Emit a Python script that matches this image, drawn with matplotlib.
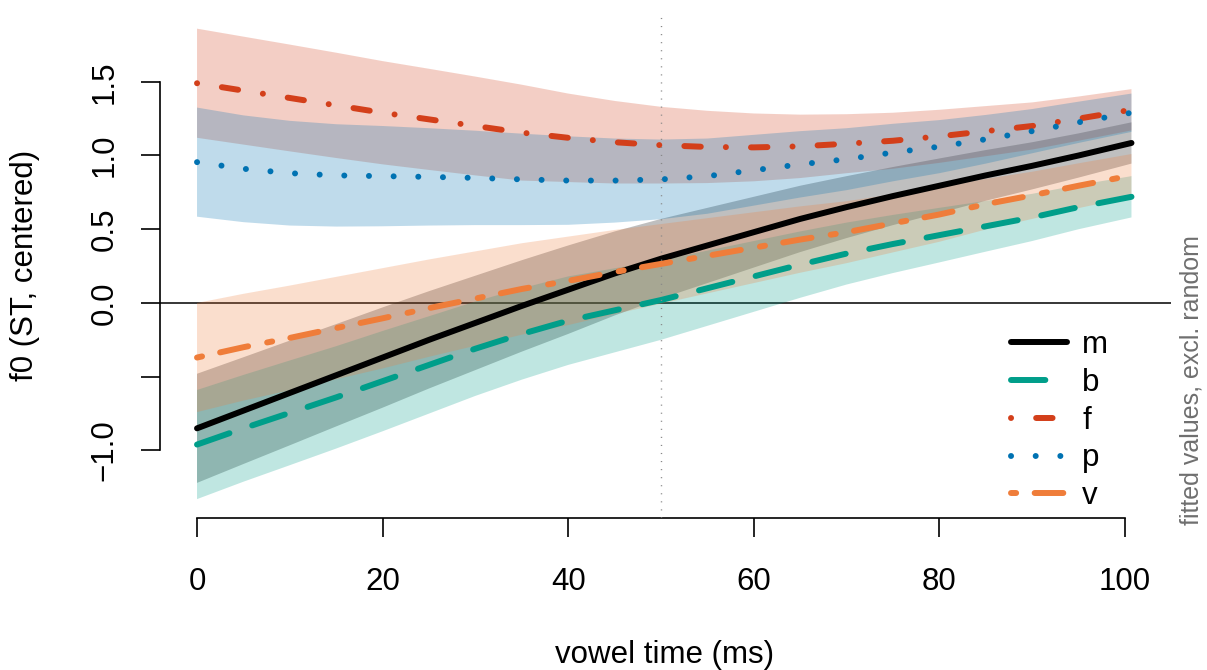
import numpy as np
import matplotlib.pyplot as plt

plt.rcParams['font.family'] = ['Liberation Sans', 'DejaVu Sans']

# vowel time (ms)
time = [0, 5, 10, 15, 20, 25, 30, 35, 40, 45, 50,
        55, 60, 65, 70, 75, 80, 85, 90, 95, 100.7]

# fitted f0 per consonant
fit_m = [-0.85, -0.73, -0.61, -0.49, -0.37, -0.25, -0.135, -0.02, 0.09, 0.20, 0.30,
         0.39, 0.48, 0.57, 0.65, 0.725, 0.795, 0.865, 0.93, 1.00, 1.085]
fit_b = [-0.96, -0.85, -0.745, -0.64, -0.53, -0.42, -0.31, -0.21, -0.12, -0.05, 0.02,
         0.10, 0.18, 0.26, 0.335, 0.40, 0.46, 0.52, 0.58, 0.65, 0.72]
fit_f = [1.49, 1.44, 1.39, 1.34, 1.29, 1.245, 1.20, 1.155, 1.12, 1.09, 1.07,
         1.058, 1.055, 1.062, 1.08, 1.10, 1.13, 1.165, 1.20, 1.25, 1.31]
fit_p = [0.955, 0.91, 0.88, 0.865, 0.86, 0.855, 0.848, 0.838, 0.83, 0.83, 0.838,
         0.86, 0.90, 0.94, 0.975, 1.02, 1.06, 1.11, 1.165, 1.225, 1.29]
fit_v = [-0.37, -0.30, -0.237, -0.17, -0.104, -0.035, 0.03, 0.095, 0.15, 0.21, 0.265,
         0.32, 0.375, 0.43, 0.48, 0.54, 0.60, 0.67, 0.73, 0.795, 0.865]

# half width of the confidence bands
ci_m = [0.37, 0.362, 0.355, 0.347, 0.34, 0.33, 0.32, 0.31, 0.30, 0.285, 0.27,
        0.255, 0.24, 0.225, 0.21, 0.197, 0.185, 0.172, 0.16, 0.15, 0.14]
ci_b = [0.37, 0.362, 0.355, 0.347, 0.34, 0.33, 0.32, 0.31, 0.30, 0.285, 0.27,
        0.255, 0.24, 0.225, 0.21, 0.197, 0.185, 0.172, 0.16, 0.15, 0.14]
ci_f = [0.37, 0.366, 0.362, 0.357, 0.35, 0.343, 0.335, 0.325, 0.30, 0.28, 0.26,
        0.245, 0.23, 0.215, 0.20, 0.19, 0.18, 0.17, 0.16, 0.15, 0.14]
ci_p = [0.37, 0.362, 0.355, 0.347, 0.34, 0.33, 0.32, 0.31, 0.30, 0.285, 0.27,
        0.255, 0.24, 0.225, 0.21, 0.195, 0.18, 0.165, 0.15, 0.14, 0.13]
ci_v = [0.37, 0.362, 0.355, 0.347, 0.34, 0.33, 0.32, 0.31, 0.30, 0.285, 0.27,
        0.255, 0.24, 0.225, 0.21, 0.197, 0.185, 0.172, 0.16, 0.152, 0.145]

labels = ['m', 'b', 'f', 'p', 'v']
colors = ['#000000', '#009E8A', '#D33F1A', '#0072B2', '#EF7D3A']
styles = ['-', (0, (5.75, 4.03)), (0, (0.01, 4.2, 2.75, 4.2)),
          (0, (0.01, 4.12)), (0, (0.86, 3.1, 4.8, 3.25))]
fits = [fit_m, fit_b, fit_f, fit_p, fit_v]
cis = [ci_m, ci_b, ci_f, ci_p, ci_v]

fig = plt.figure(figsize=(12.07, 6.70), dpi=100)
ax = fig.add_axes([160/1207, 152/670, 1011/1207, 506/670])

ax.axhline(0, color='black', lw=1.1, zorder=0.5)

# band first, then line, group by group (later bands cover earlier lines)
for lab, fit, ci, col, ls in zip(labels, fits, cis, colors, styles):
    fit = np.array(fit)
    ci = np.array(ci)
    ax.fill_between(time, fit - ci, fit + ci, color=col, alpha=0.25, edgecolor='none')
    ax.plot(time, fit, color=col, lw=4.3, ls=ls, label=lab,
            dash_capstyle='round', solid_capstyle='round')

ax.axvline(50, color='#888888', lw=1, ls=(0, (0.8, 5)), zorder=3)

ax.set_xlim(-3.99, 104.96)
ax.set_ylim(-1.458, 1.973)

for s in ['top', 'right']:
    ax.spines[s].set_visible(False)
ax.spines['left'].set_bounds(-1, 1.5)
ax.spines['bottom'].set_bounds(0, 100)
ax.spines['left'].set_linewidth(1.2)
ax.spines['bottom'].set_linewidth(1.2)

ax.set_xticks([0, 20, 40, 60, 80, 100])
ax.set_yticks([-1.0, -0.5, 0.0, 0.5, 1.0, 1.5])
ax.set_yticklabels(['\u22121.0', '', '0.0', '0.5', '1.0', '1.5'], rotation=90, va='center')
ax.tick_params(axis='both', direction='out', length=14, width=1.2, labelsize=22.5)
ax.tick_params(axis='x', pad=21)
ax.tick_params(axis='y', pad=15)

leg = ax.legend(loc='upper left', bbox_to_anchor=(1011/1207, 1 - 330/670),
                bbox_transform=fig.transFigure, frameon=False, fontsize=22.5,
                handlelength=1.78, handletextpad=0.5, labelspacing=0.25,
                borderpad=0, borderaxespad=0)

fig.text(665/1207, 1 - 655/670, 'vowel time (ms)', fontsize=22.5, ha='center', va='center')
fig.text(25/1207, 1 - 265/670, 'f0 (ST, centered)', fontsize=22.5, rotation=90,
         ha='center', va='center')
fig.text(1191/1207, 1 - 380/670, 'fitted values, excl. random', fontsize=18,
         color='#6f6f6f', rotation=90, ha='center', va='center')

fig.savefig('out.png', dpi=100)
